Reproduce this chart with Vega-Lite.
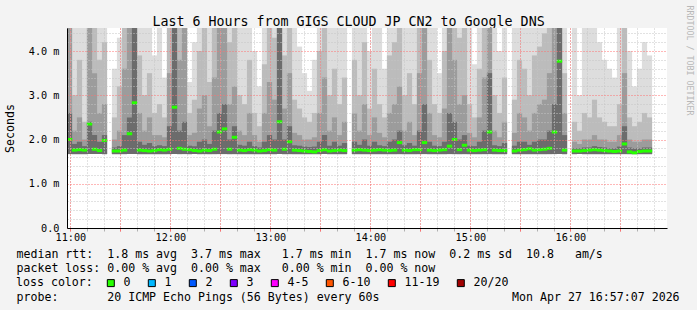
{
"$schema": "https://vega.github.io/schema/vega-lite/v6.json",
"width": 600, "height": 200,
"autosize": {"type": "none"},
"padding": {"left": 67, "top": 28, "right": 30, "bottom": 82},
"background": "#f3f3f3",
"config": {
  "view": {"fill": "white", "stroke": null},
  "font": "DejaVu Sans Mono",
  "axis": {"labelFont": "DejaVu Sans Mono", "titleFont": "DejaVu Sans Mono", "labelColor": "#000000", "titleColor": "#000000", "titleFontWeight": "normal"},
  "legend": {"labelFont": "DejaVu Sans Mono", "titleFont": "DejaVu Sans Mono", "labelColor": "#000000", "titleColor": "#000000", "titleFontWeight": "normal"}
},
"data": {"values": [
{"t":-0.5,"m":2.0,"a":2.6,"b":4.6,"c":4.6,"d":4.6,"l":"0"},
{"t":2.5,"m":1.76,"a":1.9,"b":2.2,"c":3.0,"d":4.6,"l":"0"},
{"t":5.5,"m":1.77,"a":1.95,"b":2.5,"c":3.8,"d":4.6,"l":"0"},
{"t":8.5,"m":1.76,"a":1.85,"b":2.0,"c":2.4,"d":4.6,"l":"0"},
{"t":11.5,"m":2.35,"a":2.4,"b":4.6,"c":4.6,"d":4.6,"l":"0"},
{"t":14.5,"m":1.78,"a":2.1,"b":3.5,"c":4.6,"d":4.6,"l":"0"},
{"t":17.5,"m":1.75,"a":1.95,"b":2.6,"c":3.8,"d":4.6,"l":"0"},
{"t":20.5,"m":1.98,"a":2.1,"b":2.8,"c":4.2,"d":4.6,"l":"0"},
{"t":26.5,"m":1.74,"a":1.82,"b":2.0,"c":2.5,"d":3.6,"l":"0"},
{"t":29.5,"m":1.74,"a":1.85,"b":2.2,"c":3.2,"d":4.3,"l":"0"},
{"t":32.5,"m":1.76,"a":2.1,"b":3.6,"c":4.6,"d":4.6,"l":"0"},
{"t":35.5,"m":2.13,"a":2.5,"b":4.6,"c":4.6,"d":4.6,"l":"0"},
{"t":38.5,"m":2.83,"a":4.6,"b":4.6,"c":4.6,"d":4.6,"l":"0"},
{"t":41.5,"m":1.76,"a":1.95,"b":2.6,"c":3.9,"d":4.6,"l":"0"},
{"t":44.5,"m":1.75,"a":1.88,"b":2.2,"c":3.0,"d":4.6,"l":"0"},
{"t":47.5,"m":1.74,"a":1.92,"b":2.5,"c":3.5,"d":4.6,"l":"0"},
{"t":50.5,"m":1.75,"a":1.85,"b":2.1,"c":2.6,"d":3.9,"l":"0"},
{"t":53.5,"m":1.77,"a":1.87,"b":2.1,"c":2.8,"d":4.6,"l":"0"},
{"t":56.5,"m":1.76,"a":1.85,"b":2.05,"c":2.5,"d":3.4,"l":"0"},
{"t":59.5,"m":1.78,"a":2.3,"b":3.5,"c":4.6,"d":4.6,"l":"0"},
{"t":62.5,"m":2.73,"a":4.6,"b":4.6,"c":4.6,"d":4.6,"l":"0"},
{"t":65.5,"m":1.8,"a":2.2,"b":3.8,"c":4.6,"d":4.6,"l":"0"},
{"t":68.5,"m":1.78,"a":2.4,"b":4.6,"c":4.6,"d":4.6,"l":"0"},
{"t":71.5,"m":1.77,"a":1.86,"b":2.1,"c":2.6,"d":3.3,"l":"0"},
{"t":74.5,"m":1.75,"a":1.85,"b":2.15,"c":2.9,"d":4.2,"l":"0"},
{"t":77.5,"m":1.74,"a":1.95,"b":2.7,"c":4.0,"d":4.6,"l":"0"},
{"t":80.5,"m":1.76,"a":2.0,"b":3.0,"c":4.6,"d":4.6,"l":"0"},
{"t":83.5,"m":1.75,"a":1.9,"b":2.3,"c":3.3,"d":4.6,"l":"0"},
{"t":86.5,"m":1.78,"a":2.2,"b":3.4,"c":4.6,"d":4.6,"l":"0"},
{"t":89.5,"m":2.17,"a":2.6,"b":4.6,"c":4.6,"d":4.6,"l":"0"},
{"t":92.5,"m":2.24,"a":2.8,"b":4.6,"c":4.6,"d":4.6,"l":"0"},
{"t":95.5,"m":1.78,"a":2.0,"b":2.8,"c":4.2,"d":4.6,"l":"0"},
{"t":98.5,"m":2.05,"a":2.3,"b":3.2,"c":4.6,"d":4.6,"l":"0"},
{"t":101.5,"m":1.76,"a":1.88,"b":2.2,"c":3.0,"d":4.6,"l":"0"},
{"t":104.5,"m":1.75,"a":1.86,"b":2.1,"c":2.8,"d":4.6,"l":"0"},
{"t":107.5,"m":1.77,"a":1.95,"b":2.6,"c":3.8,"d":4.6,"l":"0"},
{"t":110.5,"m":1.76,"a":1.85,"b":2.1,"c":2.6,"d":4.0,"l":"0"},
{"t":113.5,"m":1.74,"a":1.82,"b":1.95,"c":2.3,"d":3.2,"l":"0"},
{"t":116.5,"m":1.75,"a":1.95,"b":2.6,"c":3.7,"d":4.6,"l":"0"},
{"t":119.5,"m":1.77,"a":2.1,"b":3.3,"c":4.6,"d":4.6,"l":"0"},
{"t":122.5,"m":1.76,"a":2.0,"b":2.9,"c":4.3,"d":4.6,"l":"0"},
{"t":125.5,"m":2.4,"a":4.6,"b":4.6,"c":4.6,"d":4.6,"l":"0"},
{"t":128.5,"m":1.78,"a":2.0,"b":2.7,"c":3.9,"d":4.6,"l":"0"},
{"t":131.5,"m":1.95,"a":2.3,"b":3.5,"c":4.6,"d":4.6,"l":"0"},
{"t":134.5,"m":1.76,"a":1.87,"b":2.15,"c":2.9,"d":4.6,"l":"0"},
{"t":137.5,"m":1.75,"a":1.86,"b":2.1,"c":2.7,"d":4.1,"l":"0"},
{"t":140.5,"m":1.74,"a":1.84,"b":2.0,"c":2.5,"d":3.5,"l":"0"},
{"t":143.5,"m":1.73,"a":1.83,"b":2.0,"c":2.4,"d":3.1,"l":"0"},
{"t":146.5,"m":1.72,"a":1.84,"b":2.05,"c":2.6,"d":3.8,"l":"0"},
{"t":149.5,"m":1.75,"a":1.95,"b":2.6,"c":4.0,"d":4.6,"l":"0"},
{"t":152.5,"m":1.77,"a":2.1,"b":3.4,"c":4.6,"d":4.6,"l":"0"},
{"t":155.5,"m":1.74,"a":1.86,"b":2.2,"c":3.0,"d":4.6,"l":"0"},
{"t":158.5,"m":1.75,"a":1.95,"b":2.5,"c":3.6,"d":4.6,"l":"0"},
{"t":161.5,"m":1.76,"a":1.86,"b":2.1,"c":2.8,"d":4.6,"l":"0"},
{"t":164.5,"m":1.75,"a":1.92,"b":2.4,"c":3.4,"d":4.6,"l":"0"},
{"t":170.5,"m":1.76,"a":1.95,"b":2.6,"c":3.8,"d":4.6,"l":"0"},
{"t":173.5,"m":1.77,"a":1.88,"b":2.2,"c":3.0,"d":4.6,"l":"0"},
{"t":176.5,"m":1.76,"a":2.0,"b":2.8,"c":4.2,"d":4.6,"l":"0"},
{"t":179.5,"m":1.75,"a":1.86,"b":2.1,"c":2.7,"d":4.0,"l":"0"},
{"t":182.5,"m":1.76,"a":1.95,"b":2.5,"c":3.6,"d":4.6,"l":"0"},
{"t":185.5,"m":1.77,"a":1.87,"b":2.15,"c":2.8,"d":4.6,"l":"0"},
{"t":188.5,"m":1.76,"a":1.85,"b":2.05,"c":2.5,"d":3.6,"l":"0"},
{"t":191.5,"m":1.75,"a":1.95,"b":2.6,"c":3.9,"d":4.6,"l":"0"},
{"t":194.5,"m":1.76,"a":2.0,"b":2.8,"c":4.2,"d":4.6,"l":"0"},
{"t":197.5,"m":1.93,"a":2.2,"b":3.2,"c":4.6,"d":4.6,"l":"0"},
{"t":200.5,"m":1.76,"a":1.87,"b":2.2,"c":3.0,"d":4.6,"l":"0"},
{"t":203.5,"m":1.75,"a":1.92,"b":2.4,"c":3.5,"d":4.6,"l":"0"},
{"t":206.5,"m":1.77,"a":1.86,"b":2.1,"c":2.8,"d":4.6,"l":"0"},
{"t":209.5,"m":1.77,"a":2.2,"b":3.5,"c":4.6,"d":4.6,"l":"0"},
{"t":212.5,"m":1.93,"a":2.8,"b":4.6,"c":4.6,"d":4.6,"l":"0"},
{"t":215.5,"m":1.76,"a":1.95,"b":2.6,"c":3.8,"d":4.6,"l":"0"},
{"t":218.5,"m":1.75,"a":1.86,"b":2.1,"c":2.8,"d":4.6,"l":"0"},
{"t":221.5,"m":1.76,"a":1.85,"b":2.05,"c":2.6,"d":3.5,"l":"0"},
{"t":224.5,"m":1.77,"a":1.95,"b":2.7,"c":4.0,"d":4.6,"l":"0"},
{"t":227.5,"m":1.85,"a":2.6,"b":4.6,"c":4.6,"d":4.6,"l":"0"},
{"t":230.5,"m":2.0,"a":2.4,"b":3.8,"c":4.6,"d":4.6,"l":"0"},
{"t":233.5,"m":1.77,"a":2.0,"b":2.8,"c":4.3,"d":4.6,"l":"0"},
{"t":236.5,"m":1.87,"a":2.1,"b":3.0,"c":4.6,"d":4.6,"l":"0"},
{"t":239.5,"m":1.76,"a":1.86,"b":2.15,"c":2.8,"d":4.6,"l":"0"},
{"t":242.5,"m":1.75,"a":1.85,"b":2.05,"c":2.5,"d":3.7,"l":"0"},
{"t":245.5,"m":1.76,"a":1.95,"b":2.5,"c":3.6,"d":4.6,"l":"0"},
{"t":248.5,"m":1.77,"a":2.2,"b":3.4,"c":4.6,"d":4.6,"l":"0"},
{"t":251.5,"m":2.17,"a":3.5,"b":4.6,"c":4.6,"d":4.6,"l":"0"},
{"t":254.5,"m":1.76,"a":1.87,"b":2.2,"c":3.0,"d":4.6,"l":"0"},
{"t":257.5,"m":1.75,"a":1.85,"b":2.05,"c":2.6,"d":4.0,"l":"0"},
{"t":260.5,"m":1.75,"a":1.92,"b":2.4,"c":3.4,"d":4.6,"l":"0"},
{"t":266.5,"m":1.74,"a":1.86,"b":2.15,"c":2.9,"d":4.6,"l":"0"},
{"t":269.5,"m":1.76,"a":1.95,"b":2.6,"c":3.8,"d":4.6,"l":"0"},
{"t":272.5,"m":1.77,"a":1.95,"b":2.5,"c":3.6,"d":4.6,"l":"0"},
{"t":275.5,"m":1.79,"a":1.88,"b":2.2,"c":3.0,"d":4.6,"l":"0"},
{"t":278.5,"m":1.76,"a":1.95,"b":2.6,"c":3.9,"d":4.6,"l":"0"},
{"t":281.5,"m":1.77,"a":2.0,"b":2.8,"c":4.1,"d":4.6,"l":"0"},
{"t":284.5,"m":1.78,"a":2.0,"b":2.9,"c":4.4,"d":4.6,"l":"0"},
{"t":287.5,"m":1.8,"a":2.2,"b":3.5,"c":4.6,"d":4.6,"l":"0"},
{"t":290.5,"m":2.17,"a":2.8,"b":4.6,"c":4.6,"d":4.6,"l":"0"},
{"t":293.5,"m":3.77,"a":4.6,"b":4.6,"c":4.6,"d":4.6,"l":"0"},
{"t":296.5,"m":1.76,"a":2.1,"b":2.6,"c":3.5,"d":4.6,"l":"0"},
{"t":302.5,"m":1.74,"a":1.8,"b":1.95,"c":2.4,"d":4.6,"l":"0"},
{"t":305.5,"m":1.74,"a":1.8,"b":1.9,"c":2.2,"d":3.0,"l":"0"},
{"t":308.5,"m":1.75,"a":1.82,"b":2.0,"c":2.6,"d":4.6,"l":"0"},
{"t":311.5,"m":1.76,"a":1.82,"b":2.0,"c":2.5,"d":4.6,"l":"0"},
{"t":314.5,"m":1.77,"a":1.85,"b":2.1,"c":2.9,"d":4.6,"l":"0"},
{"t":317.5,"m":1.76,"a":1.83,"b":2.0,"c":2.5,"d":4.2,"l":"0"},
{"t":320.5,"m":1.75,"a":1.82,"b":2.0,"c":2.4,"d":3.8,"l":"0"},
{"t":323.5,"m":1.74,"a":1.8,"b":1.95,"c":2.3,"d":3.6,"l":"0"},
{"t":326.5,"m":1.73,"a":1.8,"b":1.95,"c":2.3,"d":3.4,"l":"0"},
{"t":329.5,"m":1.74,"a":1.84,"b":2.1,"c":2.8,"d":4.6,"l":"0"},
{"t":332.5,"m":1.9,"a":2.3,"b":3.5,"c":4.6,"d":4.6,"l":"0"},
{"t":335.5,"m":1.72,"a":1.82,"b":2.0,"c":2.5,"d":4.0,"l":"0"},
{"t":338.5,"m":1.7,"a":1.8,"b":1.95,"c":2.3,"d":3.2,"l":"0"},
{"t":341.5,"m":1.73,"a":1.8,"b":1.95,"c":2.4,"d":3.6,"l":"0"},
{"t":344.5,"m":1.74,"a":1.82,"b":2.0,"c":2.6,"d":4.2,"l":"0"},
{"t":347.5,"m":1.74,"a":1.82,"b":2.0,"c":2.5,"d":3.9,"l":"0"}
]},
"layer": [
  {"mark": {"type": "bar", "width": 5.2, "color": "#dddddd", "clip": true},
   "encoding": {
     "x": {"field": "t", "type": "quantitative", "scale": {"domain": [-2, 358], "nice": false, "zero": false, "padding": 0},
       "axis": {"orient": "bottom", "values": [0,10,20,30,40,50,60,70,80,90,100,110,120,130,140,150,160,170,180,190,200,210,220,230,240,250,260,270,280,290,300,310,320,330,340,350],
         "grid": true, "gridColor": "#c4c4c4", "gridDash": [1,2], "labels": false, "domain": false, "ticks": true, "tickColor": "#b0b0b0", "tickSize": 3,
         "title": "probe:\u00a0\u00a0\u00a0\u00a0\u00a0\u00a0\u00a020 ICMP Echo Pings (56 Bytes) every 60s\u00a0\u00a0\u00a0\u00a0\u00a0\u00a0\u00a0\u00a0\u00a0\u00a0\u00a0\u00a0\u00a0\u00a0\u00a0\u00a0\u00a0\u00a0\u00a0Mon Apr 27 16:57:07 2026",
         "titleFontSize": 11.6, "titleX": -51, "titleY": 72, "titleAlign": "left", "titleBaseline": "alphabetic", "zindex": 1}},
     "y": {"field": "d", "type": "quantitative", "scale": {"domain": [0, 4.52], "nice": false, "zero": false, "padding": 0},
       "axis": {"orient": "left", "values": [0.2,0.4,0.6,0.8,1.2,1.4,1.6,1.8,2.2,2.4,2.6,2.8,3.2,3.4,3.6,3.8,4.2,4.4],
         "grid": true, "gridColor": "#c4c4c4", "gridDash": [1,2], "labels": false, "domain": false, "ticks": false, "title": null, "zindex": 1}},
     "y2": {"datum": 1.67}
   }},
  {"mark": {"type": "bar", "width": 5.2, "color": "#bcbcbc", "clip": true},
   "encoding": {
     "x": {"field": "t", "type": "quantitative", "scale": {"domain": [-2, 358], "nice": false, "zero": false, "padding": 0},
       "axis": {"orient": "bottom", "values": [0,30,60,90,120,150,180,210,240,270,300,330],
         "grid": true, "gridColor": "#ff7070", "gridDash": [1,2], "labels": false, "domain": false, "ticks": true, "tickColor": "#ff7070", "tickSize": 3, "title": null, "zindex": 1}},
     "y": {"field": "c", "type": "quantitative", "scale": {"domain": [0, 4.52], "nice": false, "zero": false, "padding": 0},
       "axis": {"orient": "left", "values": [0,1,2,3,4], "grid": true, "gridColor": "#ff7070", "gridDash": [1,2],
         "labelExpr": "datum.value == 0 ? '0.0' : format(datum.value, '.1f') + ' m'", "labelFontSize": 10.2, "labelPadding": 8,
         "ticks": false, "domain": true, "domainColor": "#000000", "domainWidth": 1,
         "title": "Seconds", "titleFontSize": 11.6, "titleAngle": -90, "titleX": -57, "titleY": 100, "titleAlign": "center", "titleBaseline": "middle", "zindex": 1}},
     "y2": {"datum": 1.67}
   }},
  {"mark": {"type": "bar", "width": 5.2, "color": "#9c9c9c", "clip": true},
   "encoding": {
     "x": {"field": "t", "type": "quantitative", "scale": {"domain": [-2, 358], "nice": false, "zero": false, "padding": 0},
       "axis": {"orient": "bottom", "values": [0,60,120,180,240,300], "grid": false,
         "labelExpr": "(11 + datum.value / 60) + ':00'", "labelFontSize": 10.2, "labelPadding": 4, "ticks": false,
         "domain": true, "domainColor": "#000000", "domainWidth": 1,
         "title": ["median rtt:\u00a0\u00a01.8 ms avg\u00a0\u00a03.7 ms max\u00a0\u00a0\u00a01.7 ms min\u00a0\u00a01.7 ms now\u00a0\u00a00.2 ms sd\u00a0\u00a010.8\u00a0\u00a0\u00a0am/s",
                   "packet loss: 0.00 % avg\u00a0\u00a00.00 % max\u00a0\u00a0\u00a00.00 % min\u00a0\u00a00.00 % now"],
         "titleFontSize": 11.6, "titleLineHeight": 14, "titleX": -51, "titleY": 29.5, "titleAlign": "left", "titleBaseline": "alphabetic", "zindex": 1}},
     "y": {"field": "b", "type": "quantitative", "scale": {"domain": [0, 4.52], "nice": false, "zero": false, "padding": 0},
       "axis": {"orient": "right", "values": [], "grid": false, "labels": false, "ticks": false, "domain": false,
         "title": "RRDTOOL / TOBI OETIKER", "titleFontSize": 8.3, "titleColor": "#b8b8b8", "titleAngle": 90, "titleX": 21, "titleY": -23, "titleAlign": "left", "titleBaseline": "middle"}},
     "y2": {"datum": 1.67}
   }},
  {"mark": {"type": "bar", "width": 5.2, "color": "#6c6c6c", "clip": true},
   "encoding": {
     "x": {"field": "t", "type": "quantitative", "scale": {"domain": [-2, 358], "nice": false, "zero": false, "padding": 0},
       "axis": {"orient": "top", "values": [], "grid": false, "labels": false, "ticks": false, "domain": false,
         "title": "Last 6 Hours from GIGS CLOUD JP CN2 to Google DNS", "titleFontSize": 13.3, "titleX": 281, "titleY": -3, "titleAlign": "center", "titleBaseline": "alphabetic"}},
     "y": {"field": "a", "type": "quantitative", "scale": {"domain": [0, 4.52], "nice": false, "zero": false, "padding": 0}, "axis": null},
     "y2": {"datum": 1.67}
   }},
  {"mark": {"type": "tick", "orient": "horizontal", "size": 5.4, "thickness": 3, "opacity": 1, "clip": true},
   "encoding": {
     "x": {"field": "t", "type": "quantitative", "scale": {"domain": [-2, 358], "nice": false, "zero": false, "padding": 0}, "axis": null},
     "y": {"field": "m", "type": "quantitative", "scale": {"domain": [0, 4.52], "nice": false, "zero": false, "padding": 0}, "axis": null},
     "color": {"field": "l", "type": "nominal",
       "scale": {"domain": ["0","1","2","3","4-5","6-10","11-19","20/20"], "range": ["#26ff00","#00b8ff","#0059ff","#7e00ff","#ff00ff","#ff5500","#ff0000","#a10000"]},
       "legend": {"orient": "none", "legendX": -51, "legendY": 249, "direction": "horizontal", "title": "loss color:", "titleOrient": "left", "titleFontSize": 11.6, "titlePadding": 12,
         "symbolType": "square", "symbolSize": 49, "symbolStrokeColor": "#000000", "symbolStrokeWidth": 1, "labelFontSize": 11.6, "labelOffset": 7, "columnPadding": 15, "padding": 0, "labelLimit": 200,
         "encode": {"symbols": {"update": {"stroke": {"value": "#000000"}, "strokeWidth": {"value": 1}, "opacity": {"value": 1}}}}}}
   }}
],
"resolve": {"axis": {"x": "independent", "y": "independent"}}
}
